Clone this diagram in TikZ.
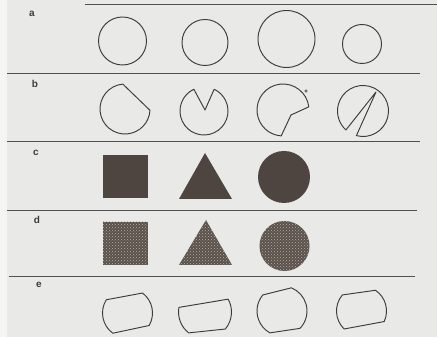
\documentclass[tikz,border=0pt]{standalone}
\usepackage{fontspec}
\setmainfont{Liberation Sans}
\usetikzlibrary{patterns}
\definecolor{paper}{HTML}{E9E9E7}
\definecolor{ink}{HTML}{3C3C3C}
\definecolor{rulec}{HTML}{505050}
\definecolor{solidc}{HTML}{4E4540}
\definecolor{dotbg}{HTML}{5A514B}
\definecolor{dotfg}{HTML}{B8B0A9}
\newcommand\eshape[7]{%
  \begin{scope}[shift={(#1,#2)}]
    \draw[outline] (#4:#3) -- (#5:#3)
      arc[start angle=#5, end angle=#6, radius=#3]
      -- (#7:#3)
      arc[start angle=#7, end angle={#4+360}, radius=#3] -- cycle;
  \end{scope}}
\begin{document}
\begin{tikzpicture}[x=1pt,y=1pt,
  outline/.style={draw=ink, line width=0.95pt, line join=round},
  sep/.style={draw=rulec, line width=1pt},
  lbl/.style={font=\bfseries\fontsize{10}{10}\selectfont, text=ink, inner sep=0pt},
  solidfill/.style={fill=solidc},
  dotfill/.style={preaction={fill=dotbg}, pattern=crosshatch dots, pattern color=dotfg}]
\fill[paper] (0,0) rectangle (437,337);
\fill[white!55!paper] (0,0) rectangle (7,337);
\useasboundingbox (0,0) rectangle (437,337);

% separator rules
\draw[sep] (85,332) -- (437,332);
\draw[sep] (7,263) -- (420,263);
\draw[sep] (7,195) -- (420,195);
\draw[sep] (7,126) -- (417,126);
\draw[sep] (9,60) -- (415,60);

% row labels
\node[lbl] (la) at (32,323) {a};
\node[lbl] (lb) at (35,253) {b};
\node[lbl] (lc) at (36,184) {c};
\node[lbl] (ld) at (37,117) {d};
\node[lbl] (le) at (39,52) {e};

% row a: circles
\draw[outline] (122.5,296) circle[radius=24];
\draw[outline] (205,294.5) circle[radius=23];
\draw[outline] (286.5,298) circle[radius=28.5];
\draw[outline] (362,293) circle[radius=19.5];

% row b: cut circles
\draw[outline] (125,228) ++(95:25) arc[start angle=95, end angle=357, radius=25] -- cycle;
\draw[outline] (204,226) ++(115:24) arc[start angle=115, end angle=425, radius=24] -- (205,227) -- cycle;
\draw[outline] (283,227) ++(7:26) arc[start angle=7, end angle=266, radius=26] -- (291,222) -- cycle;
\draw[ink, line width=0.5pt] (306,246) circle[radius=1.3];
\draw[outline] (363,226) ++(255:25.5) arc[start angle=255, end angle=588, radius=25.5] -- (376,245) -- cycle;

% row c: solid shapes
\fill[solidfill] (103,139) rectangle (148,182);
\fill[solidfill] (205,184) -- (179,138) -- (232,138) -- cycle;
\fill[solidfill] (284,160) circle[radius=26];

% row d: stippled shapes
\fill[dotfill] (103,72) rectangle (148,115);
\fill[dotfill] (206,117) -- (179,72) -- (232,72) -- cycle;
\fill[dotfill] (284.5,91) circle[radius=25];

% row e: circles cut by two chords
\eshape{127.5}{24}{25}{53}{148}{234}{330}
\eshape{205}{25}{26.5}{29}{170}{232}{320}
\eshape{282}{26}{25}{68}{140}{241}{316}
\eshape{361.5}{26}{25}{56}{140}{226}{335}
\end{tikzpicture}
\end{document}
